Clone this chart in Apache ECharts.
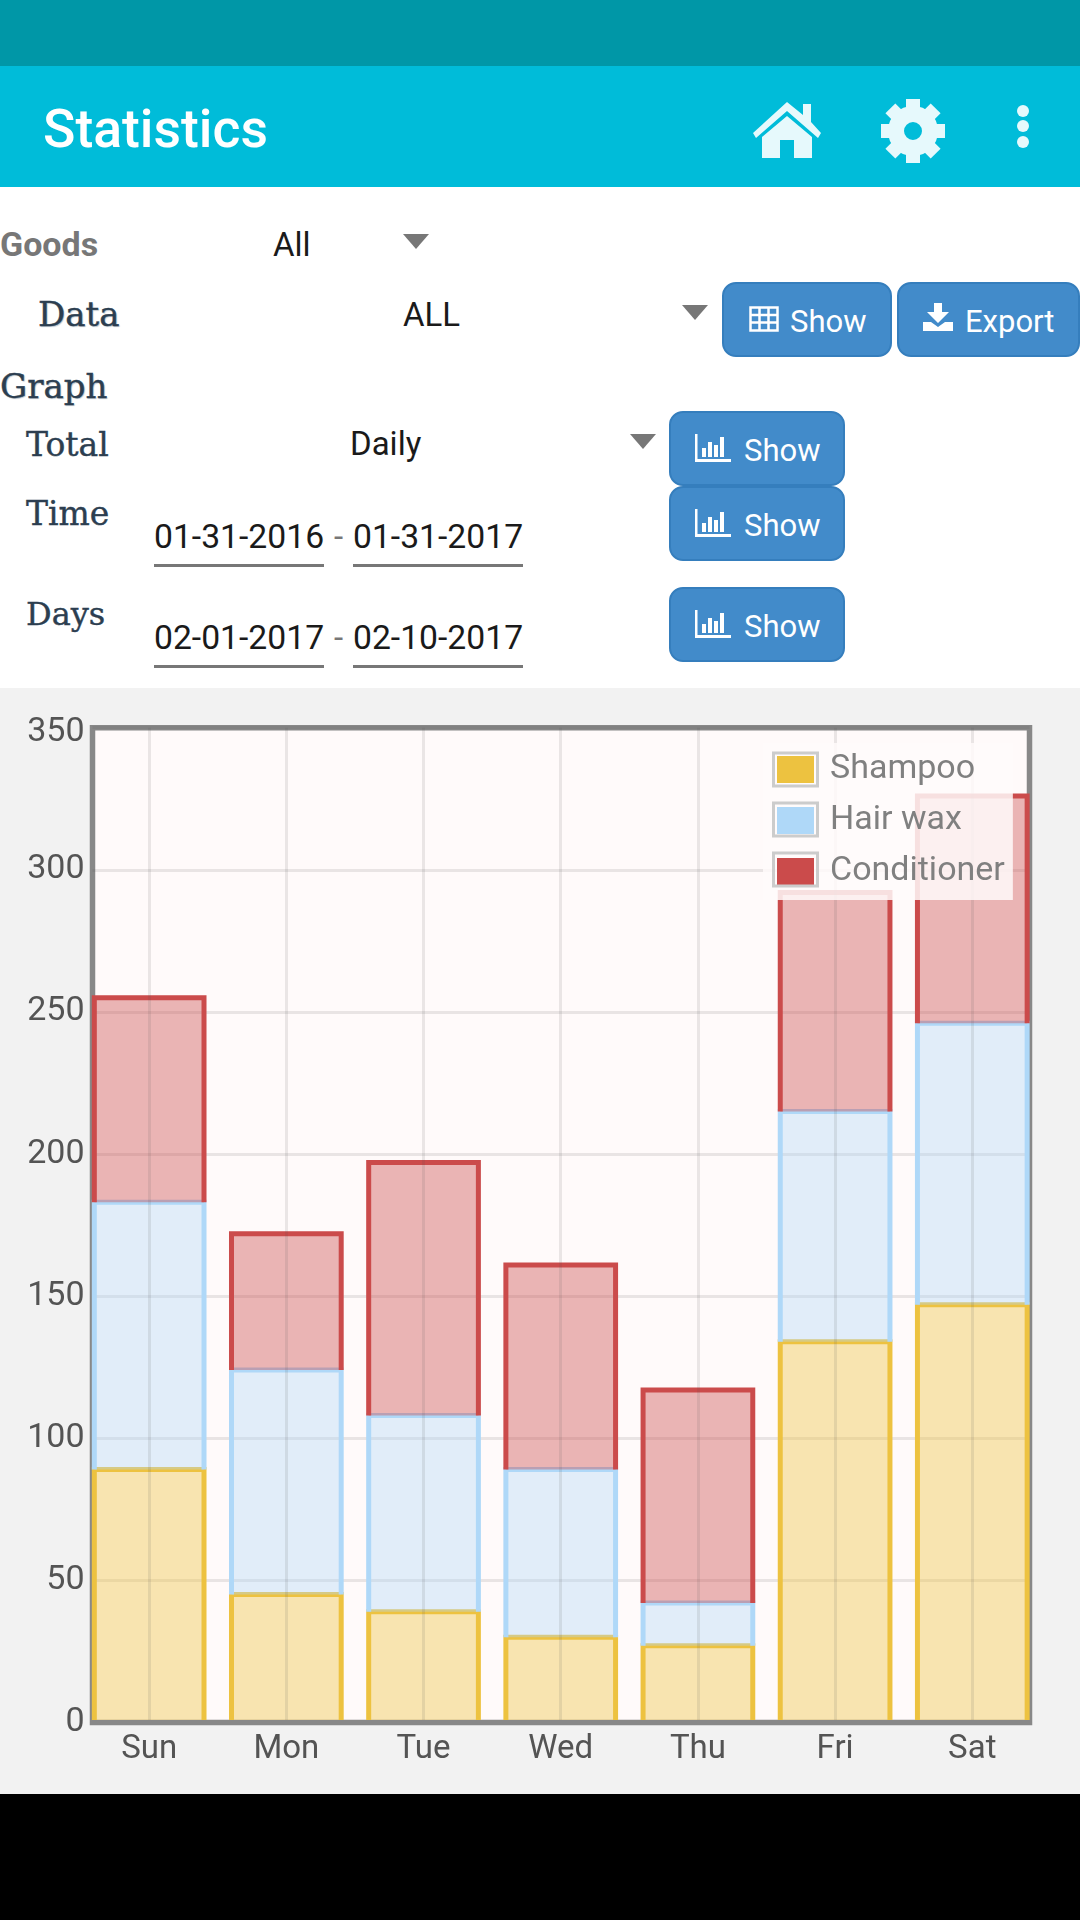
<!DOCTYPE html>
<html>
<head>
<meta charset="utf-8">
<title>Statistics</title>
<script src="https://cdn.jsdelivr.net/npm/echarts@6/dist/echarts.min.js"></script>
<style>
html, body { margin: 0; padding: 0; background: #fff; }
#page { position: relative; width: 1080px; height: 1920px; overflow: hidden; font-family: Roboto, sans-serif; }
#page > div, #page > svg { position: absolute; }
.txt { font-size: 33px; line-height: 40px; color: #1a1a1a; white-space: nowrap; }
.date { font-size: 33.7px; }
.serif { font-family: "DejaVu Serif", serif; color: #2c3e50; white-space: nowrap; -webkit-text-stroke: 0.4px #2c3e50; }
.tri { width: 0; height: 0; border-left: 13px solid transparent; border-right: 13px solid transparent; border-top: 15px solid #777; }
.btn { box-sizing: border-box; background: #428bca; border: 2px solid #357ebd; border-radius: 14px; color: #fff; font-size: 31px; }
.btn svg { position: absolute; }
.btn span { position: absolute; line-height: 40px; }
.line { background: #777; height: 3px; width: 170px; }
#chart { left: 0; top: 688px; width: 1080px; height: 1106px; }
</style>
</head>
<body>
<div id="page">
  <div style="left:0;top:0;width:1080px;height:66px;background:#0097a7"></div>
  <div style="left:0;top:66px;width:1080px;height:121px;background:#00bcd9"></div>
  <div style="left:43px;top:99px;font-size:53.500px;line-height:60px;font-weight:500;color:#fff">Statistics</div>
  <svg style="left:753px;top:102px" width="68" height="56" viewBox="0 0 68 56" fill="#e6f9fc">
    <path d="M34 0 L50 13 L50 2 L58 2 L58 20 L68 31 L65 36 L34 9 L3 36 L0 31 Z"/>
    <path d="M34 14 L59 35 L59 56 L41 56 L41 38 L27 38 L27 56 L9 56 L9 35 Z"/>
  </svg>
  <svg style="left:881px;top:99px" width="64" height="64" viewBox="-32 -32 64 64" fill="#e6f9fc">
    <circle r="17" fill="none" stroke="#e6f9fc" stroke-width="16"/>
    <rect x="-7" y="-32" width="14" height="12"/>
    <rect x="-7" y="-32" width="14" height="12" transform="rotate(45)"/>
    <rect x="-7" y="-32" width="14" height="12" transform="rotate(90)"/>
    <rect x="-7" y="-32" width="14" height="12" transform="rotate(135)"/>
    <rect x="-7" y="-32" width="14" height="12" transform="rotate(180)"/>
    <rect x="-7" y="-32" width="14" height="12" transform="rotate(225)"/>
    <rect x="-7" y="-32" width="14" height="12" transform="rotate(270)"/>
    <rect x="-7" y="-32" width="14" height="12" transform="rotate(315)"/>
  </svg>
  <svg style="left:1016px;top:104px" width="14" height="46" viewBox="0 0 14 46" fill="#e6f9fc">
    <circle cx="7" cy="7" r="6"/><circle cx="7" cy="22" r="6"/><circle cx="7" cy="38" r="6"/>
  </svg>

  <div class="txt" style="left:0;top:224px;font-size:34px;font-weight:700;color:#777">Goods</div>
  <div class="txt" style="left:273px;top:225px">All</div>
  <div class="tri" style="left:403px;top:234px"></div>

  <div class="serif" style="left:38px;top:292px;font-size:34px;line-height:44px;text-shadow:1px 1px 1px #b9c2ca">Data</div>
  <div class="txt" style="left:403px;top:295px">ALL</div>
  <div class="tri" style="left:682px;top:305px"></div>
  <div class="btn" style="left:722px;top:282px;width:170px;height:75px">
    <svg style="left:25px;top:22px" width="30" height="26" viewBox="0 0 30 26" fill="none" stroke="#fff" stroke-width="2.5">
      <rect x="1.5" y="1.5" width="27" height="23"/><path d="M1 9H29M1 16.5H29M10.500 1V25M19.500 1V25"/>
    </svg>
    <span style="left:66px;top:18px">Show</span>
  </div>
  <div class="btn" style="left:897px;top:282px;width:183px;height:75px">
    <svg style="left:24px;top:19px" width="30" height="28" viewBox="0 0 30 28" fill="#fff">
      <path d="M11 0H19V9H26L15 20L4 9H11Z"/><path d="M0 19H8L15 24L22 19H30V28H0Z"/>
    </svg>
    <span style="left:66px;top:18px">Export</span>
  </div>

  <div class="serif" style="left:0;top:364px;font-size:34px;line-height:44px;text-shadow:1px 1px 1px #b9c2ca">Graph</div>

  <div class="serif" style="left:26px;top:425px;font-size:33px;line-height:40px">Total</div>
  <div class="txt" style="left:350px;top:424px">Daily</div>
  <div class="tri" style="left:630px;top:434px"></div>
  <div class="btn" style="left:669px;top:411px;width:176px;height:75px">
    <svg style="left:24px;top:21px" width="36" height="28" viewBox="0 0 36 28" fill="#fff">
      <path d="M0 0H2.500V25H36V28H0Z"/><rect x="7" y="14" width="4" height="9"/><rect x="13" y="8" width="4" height="15"/><rect x="19" y="11" width="4" height="12"/><rect x="25" y="3" width="4" height="20"/>
    </svg>
    <span style="left:73px;top:18px">Show</span>
  </div>
  <div class="serif" style="left:26px;top:494px;font-size:33px;line-height:40px">Time</div>
  <div class="txt date" style="left:154px;top:517px">01-31-2016</div>
  <div class="txt" style="left:334px;top:517px;color:#777">-</div>
  <div class="txt date" style="left:353px;top:517px">01-31-2017</div>
  <div class="line" style="left:154px;top:564px"></div>
  <div class="line" style="left:353px;top:564px"></div>
  <div class="btn" style="left:669px;top:486px;width:176px;height:75px">
    <svg style="left:24px;top:21px" width="36" height="28" viewBox="0 0 36 28" fill="#fff">
      <path d="M0 0H2.500V25H36V28H0Z"/><rect x="7" y="14" width="4" height="9"/><rect x="13" y="8" width="4" height="15"/><rect x="19" y="11" width="4" height="12"/><rect x="25" y="3" width="4" height="20"/>
    </svg>
    <span style="left:73px;top:18px">Show</span>
  </div>
  <div class="serif" style="left:26px;top:594px;font-size:32px;line-height:40px">Days</div>
  <div class="txt date" style="left:154px;top:618px">02-01-2017</div>
  <div class="txt" style="left:334px;top:618px;color:#777">-</div>
  <div class="txt date" style="left:353px;top:618px">02-10-2017</div>
  <div class="line" style="left:154px;top:665px"></div>
  <div class="line" style="left:353px;top:665px"></div>
  <div class="btn" style="left:669px;top:587px;width:176px;height:75px">
    <svg style="left:24px;top:21px" width="36" height="28" viewBox="0 0 36 28" fill="#fff">
      <path d="M0 0H2.500V25H36V28H0Z"/><rect x="7" y="14" width="4" height="9"/><rect x="13" y="8" width="4" height="15"/><rect x="19" y="11" width="4" height="12"/><rect x="25" y="3" width="4" height="20"/>
    </svg>
    <span style="left:73px;top:18px">Show</span>
  </div>

  <div style="left:0;top:688px;width:1080px;height:1106px;background:#f2f2f2"></div>
  <div style="left:0;top:1794px;width:1080px;height:126px;background:#000"></div>
  <div id="chart"></div>
</div>
<script>
var days = ['Sun', 'Mon', 'Tue', 'Wed', 'Thu', 'Fri', 'Sat']
var shampoo = [89, 45, 39, 30, 27, 134, 147]
var hairWax = [94, 79, 69, 59, 15, 81, 99]
var conditioner = [72, 48, 89, 72, 75, 77, 80]

var positions = days.map(function(d, i) { return i })
var barWidth = 109.7

// bars have no bottom edge, so they are drawn by hand from the axis scales
var renderBar = function(params, api) {
    var x = api.coord([api.value(0), 0])[0] - barWidth / 2
    var y0 = api.coord([0, api.value(1)])[1]
    var y1 = api.coord([0, api.value(2)])[1]
    var style = api.style()
    return {
        type: 'group',
        children: [{
            type: 'rect',
            shape: { x: x, y: y1, width: barWidth, height: y0 - y1 },
            style: { fill: style.fill, stroke: null }
        }, {
            type: 'polyline',
            shape: { points: [[x, y0], [x, y1], [x + barWidth, y1], [x + barWidth, y0]] },
            style: { fill: null, stroke: style.stroke, lineWidth: 5 }
        }]
    }
}

var makeBar = function(name, values, below, color, fill) {
    return {
        name: name,
        type: 'custom',
        renderItem: renderBar,
        encode: { x: 0, y: [1, 2] },
        itemStyle: { color: fill, borderColor: color },
        silent: true,
        data: values.map(function(v, i) { return [positions[i], below[i], below[i] + v] })
    }
}

var frame = function(y) {
    return {
        type: 'rect',
        z: 100,
        silent: true,
        shape: { x: 773.5, y: y, width: 44, height: 33 },
        style: { fill: 'none', stroke: '#cccccc', lineWidth: 3 }
    }
}

var zeros = days.map(function() { return 0 })
var addUp = function(a, b) { return a.map(function(v, i) { return v + b[i] }) }

var chart = echarts.init(document.getElementById('chart'), null, { renderer: 'canvas' })
chart.setOption({
    animation: false,
    textStyle: { fontFamily: 'Roboto' },
    grid: {
        left: 92.5, top: 39.7, width: 937, height: 994.8,
        show: true, backgroundColor: '#fffafa', borderColor: '#888888', borderWidth: 5.5
    },
    legend: {
        orient: 'vertical',
        left: 763,
        top: 55,
        z: 10,
        padding: [9.5, 8, 11.5, 14],
        backgroundColor: 'rgba(255,250,250,0.85)',
        icon: 'rect',
        itemWidth: 37,
        itemHeight: 27,
        itemGap: 17,
        selectedMode: false,
        textStyle: { color: '#808080', fontSize: 34, padding: [0, 0, 0, 11] },
        data: [
            { name: 'Shampoo', itemStyle: { color: '#edc240', borderWidth: 0 } },
            { name: 'Hair wax', itemStyle: { color: '#afd8f8', borderWidth: 0 } },
            { name: 'Conditioner', itemStyle: { color: '#cb4b4b', borderWidth: 0 } }
        ]
    },
    xAxis: {
        type: 'value',
        min: -0.413,
        max: 6.417,
        z: 5,
        axisLine: { show: true, onZero: false, lineStyle: { color: '#888888', width: 5 } },
        axisTick: { show: false, customValues: positions },
        axisLabel: {
            customValues: positions,
            color: '#545454',
            fontSize: 33,
            margin: 11,
            formatter: function(v) { return days[v] }
        },
        splitLine: { show: true, lineStyle: { color: 'rgba(84,84,84,0.12)', width: 3 } }
    },
    yAxis: {
        type: 'value',
        min: 0,
        max: 350,
        interval: 50,
        axisLine: { show: false },
        axisTick: { show: false },
        axisLabel: {
            color: '#545454',
            fontSize: 34,
            margin: 8,
            formatter: function(v) { return v === 350 ? '{top|350}' : String(v) },
            rich: { top: { color: '#545454', fontSize: 34, padding: [10, 0, 0, 0] } }
        },
        splitLine: { show: true, lineStyle: { color: 'rgba(84,84,84,0.13)', width: 3 } }
    },
    graphic: { elements: [frame(65), frame(115), frame(165)] },
    series: [
        makeBar('Shampoo', shampoo, zeros, '#edc240', 'rgba(237,194,64,0.4)'),
        makeBar('Hair wax', hairWax, shampoo, '#afd8f8', 'rgba(175,216,248,0.38)'),
        makeBar('Conditioner', conditioner, addUp(shampoo, hairWax), '#cb4b4b', 'rgba(203,75,75,0.4)')
    ]
})
</script>
</body>
</html>
